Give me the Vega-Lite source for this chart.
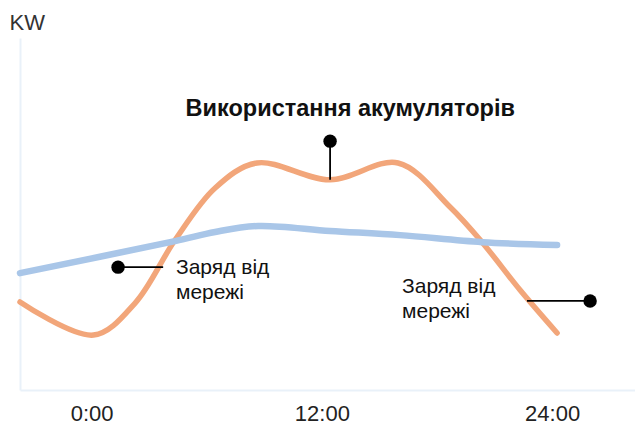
{
  "$schema": "https://vega.github.io/schema/vega-lite/v6.json",
  "width": 615,
  "height": 352,
  "autosize": {"type": "none"},
  "padding": {"left": 20, "top": 38, "right": 0, "bottom": 34},
  "background": "white",
  "config": {
    "view": {"stroke": null},
    "font": "Liberation Sans"
  },
  "datasets": {
    "curves": [
      {"series": "battery", "h": -3.73, "kw": 2.50},
      {"series": "battery", "h": 0.10, "kw": 1.56},
      {"series": "battery", "h": 2.27, "kw": 2.47},
      {"series": "battery", "h": 4.35, "kw": 4.26},
      {"series": "battery", "h": 6.44, "kw": 5.74},
      {"series": "battery", "h": 8.62, "kw": 6.45},
      {"series": "battery", "h": 12.43, "kw": 5.97},
      {"series": "battery", "h": 15.97, "kw": 6.45},
      {"series": "battery", "h": 18.68, "kw": 5.20},
      {"series": "battery", "h": 20.35, "kw": 4.20},
      {"series": "battery", "h": 22.33, "kw": 2.84},
      {"series": "battery", "h": 24.26, "kw": 1.62},
      {"series": "grid", "h": -3.73, "kw": 3.32},
      {"series": "grid", "h": 4.35, "kw": 4.23},
      {"series": "grid", "h": 6.44, "kw": 4.49},
      {"series": "grid", "h": 8.68, "kw": 4.66},
      {"series": "grid", "h": 12.43, "kw": 4.52},
      {"series": "grid", "h": 16.08, "kw": 4.40},
      {"series": "grid", "h": 20.35, "kw": 4.20},
      {"series": "grid", "h": 24.26, "kw": 4.12}
    ],
    "leaders": [
      {"h": 1.38, "h2": 3.73, "kw": 3.49, "kw2": 3.49},
      {"h": 22.69, "h2": 25.98, "kw": 2.53, "kw2": 2.53},
      {"h": 12.43, "h2": 12.43, "kw": 7.07, "kw2": 5.97}
    ],
    "dots": [
      {"h": 1.38, "kw": 3.49},
      {"h": 25.98, "kw": 2.53},
      {"h": 12.43, "kw": 7.07}
    ],
    "notes": [
      {"h": 4.40, "kw": 3.30, "label": "Заряд від\nмережі"},
      {"h": 16.18, "kw": 2.76, "label": "Заряд від\nмережі"}
    ],
    "titles": [
      {"h": 13.48, "kw": 7.78, "label": "Використання акумуляторів"}
    ]
  },
  "encoding": {
    "x": {
      "field": "h",
      "type": "quantitative",
      "scale": {"domain": [-3.73, 28.32], "nice": false, "zero": false},
      "axis": {
        "title": null,
        "values": [0, 12, 24],
        "labelExpr": "datum.value + ':00'",
        "labelFontSize": 22,
        "labelColor": "#222222",
        "labelBaseline": "alphabetic",
        "labelPadding": 30,
        "ticks": false,
        "grid": false,
        "domainColor": "#e9f1f9",
        "domainWidth": 2
      }
    },
    "y": {
      "field": "kw",
      "type": "quantitative",
      "scale": {"domain": [0, 10], "nice": false, "zero": false},
      "axis": {
        "title": "KW",
        "titleAngle": 0,
        "titleAlign": "left",
        "titleBaseline": "alphabetic",
        "titleX": -11,
        "titleY": -9,
        "titleFontSize": 22,
        "titleFontWeight": "normal",
        "titleColor": "#333333",
        "labels": false,
        "ticks": false,
        "grid": false,
        "domainColor": "#e9f1f9",
        "domainWidth": 2
      }
    }
  },
  "layer": [
    {
      "data": {"name": "curves"},
      "mark": {"type": "line", "interpolate": "catmull-rom", "strokeCap": "round"},
      "encoding": {
        "color": {
          "field": "series",
          "type": "nominal",
          "scale": {"domain": ["battery", "grid"], "range": ["#f2a67a", "#a9c6e8"]},
          "legend": null
        },
        "strokeWidth": {
          "field": "series",
          "type": "nominal",
          "scale": {"domain": ["battery", "grid"], "range": [5.5, 6.5]},
          "legend": null
        }
      }
    },
    {
      "data": {"name": "leaders"},
      "mark": {"type": "rule", "color": "black", "strokeWidth": 1.8},
      "encoding": {
        "x2": {"field": "h2"},
        "y2": {"field": "kw2"}
      }
    },
    {
      "data": {"name": "dots"},
      "mark": {"type": "point", "filled": true, "color": "black", "size": 180, "opacity": 1}
    },
    {
      "data": {"name": "notes"},
      "mark": {"type": "text", "align": "left", "baseline": "alphabetic", "fontSize": 21, "lineBreak": "\n", "lineHeight": 25, "color": "#111111"},
      "encoding": {"text": {"field": "label", "type": "nominal"}}
    },
    {
      "data": {"name": "titles"},
      "mark": {"type": "text", "align": "center", "baseline": "alphabetic", "fontSize": 23.5, "fontWeight": "bold", "color": "#111111"},
      "encoding": {"text": {"field": "label", "type": "nominal"}}
    }
  ]
}
